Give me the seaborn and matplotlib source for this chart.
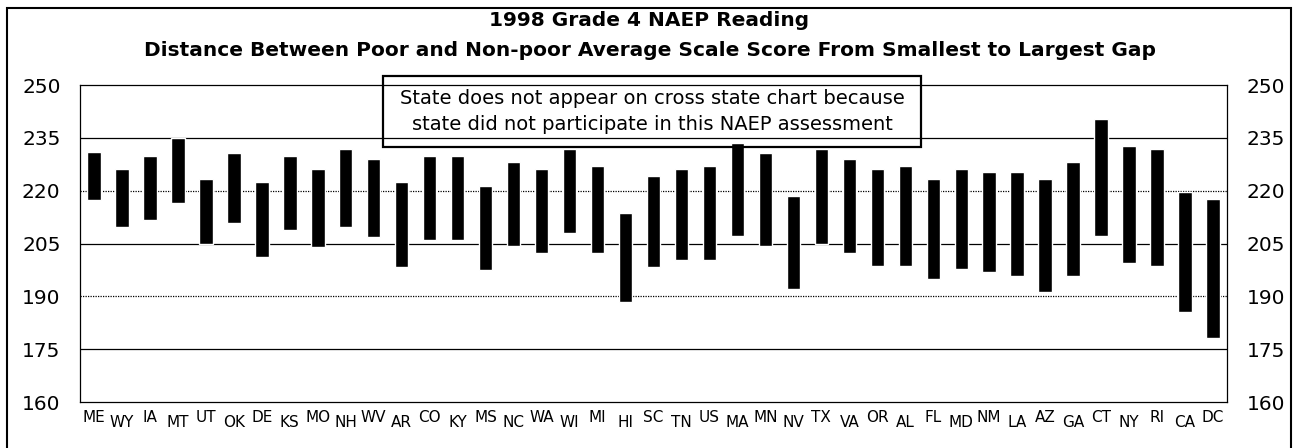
import matplotlib
matplotlib.use("Agg")
import matplotlib.pyplot as plt
import matplotlib.transforms as mtransforms
from matplotlib.patches import Rectangle
import seaborn as sns
import pandas as pd

# states ordered from smallest to largest poor / non-poor gap
states = ["ME", "WY", "IA", "MT", "UT", "OK", "DE", "KS", "MO", "NH", "WV", "AR", "CO", "KY",
          "MS", "NC", "WA", "WI", "MI", "HI", "SC", "TN", "US", "MA", "MN", "NV", "TX", "VA",
          "OR", "AL", "FL", "MD", "NM", "LA", "AZ", "GA", "CT", "NY", "RI", "CA", "DC"]

# poor average scale score (bottom of bar)
poor = [217.4, 209.8, 211.7, 216.4, 204.9, 210.7, 201.3, 208.8, 204.1, 209.8, 206.9, 198.4, 206.0, 206.0,
        197.5, 204.3, 202.2, 207.9, 202.2, 188.5, 198.4, 200.3, 200.3, 207.0, 204.3, 192.0, 204.9, 202.2,
        198.6, 198.6, 194.8, 197.7, 196.8, 195.8, 191.3, 195.9, 207.2, 199.6, 198.6, 185.6, 178.1]

# non-poor average scale score (top of bar)
nonpoor = [230.9, 226.2, 229.8, 234.9, 223.3, 230.8, 222.4, 229.8, 226.2, 231.7, 228.9, 222.4, 229.8, 229.8,
           221.4, 228.0, 226.1, 231.7, 227.0, 213.8, 224.2, 226.1, 227.0, 233.6, 230.8, 218.5, 231.7, 228.9,
           226.1, 227.0, 223.3, 226.1, 225.2, 225.2, 223.3, 228.1, 240.3, 232.7, 231.7, 219.7, 217.6]

yticks = [160, 175, 190, 205, 220, 235, 250]
solid_lines = [175, 205, 235]
dotted_lines = [190, 220]

title1 = "1998 Grade 4 NAEP Reading"
title2 = "Distance Between Poor and Non-poor Average Scale Score From Smallest to Largest Gap"
note = "State does not appear on cross state chart because\nstate did not participate in this NAEP assessment"

df = pd.DataFrame({"state": states, "gap": [h - l for h, l in zip(nonpoor, poor)]})

sns.set_style("white")
plt.rcParams["font.family"] = ["DejaVu Sans"]
plt.rcParams["text.color"] = "black"
plt.rcParams["xtick.color"] = "black"
plt.rcParams["ytick.color"] = "black"

W, H = 1299, 448
fig = plt.figure(figsize=(W / 100, H / 100), dpi=100)
ax = fig.add_axes([80 / W, 1 - 402 / H, (1227 - 80) / W, (402 - 85) / H])

sns.barplot(data=df, x="state", y="gap", order=states, color="black", saturation=1,
            width=0.48, errorbar=None, bottom=poor, ax=ax, zorder=3)

for v in solid_lines:
    ax.axhline(v, color="black", lw=0.9, zorder=1)
for v in dotted_lines:
    ax.axhline(v, color="black", lw=0.9, ls=(0, (1, 1)), zorder=1)

ax.set_ylim(160, 250)
ax.set_xlim(-0.5, len(states) - 0.5)
ax.set_xlabel("")
ax.set_ylabel("")
ax.set_yticks(yticks)
ax.tick_params(axis="y", length=0, labelsize=14.5, pad=14, labelleft=True, labelright=True)
ax.tick_params(axis="x", which="major", length=0, labelsize=11, pad=6)
ax.set_xticks([i + 0.5 for i in range(len(states) - 1)], minor=True)
ax.tick_params(axis="x", which="minor", direction="in", length=4, width=0.8, color="black")

# stagger every other state label
shift = mtransforms.ScaledTranslation(0, -0.05, fig.dpi_scale_trans)
for i, lab in enumerate(ax.get_xticklabels()):
    if i % 2:
        lab.set_transform(lab.get_transform() + shift)

for s in ax.spines.values():
    s.set_color("black")
    s.set_linewidth(0.9)

# titles
fig.text(0.5, 1 - 21 / H, title1, ha="center", va="center", fontsize=14.5, fontweight="bold")
fig.text(0.5, 1 - 51 / H, title2, ha="center", va="center", fontsize=14.5, fontweight="bold")

# note box
fig.patches.append(Rectangle((383 / W, 1 - 147 / H), (921 - 383) / W, (147 - 76) / H,
                             transform=fig.transFigure, fill=False, ec="black", lw=1.6, zorder=5))
fig.text(652 / W, 1 - 111.5 / H, note, ha="center", va="center", fontsize=14,
         linespacing=1.4)

# outer frame
fig.patches.append(Rectangle((7 / W, -0.01), (1291 - 7) / W, 1 - 8 / H + 0.01,
                             transform=fig.transFigure, fill=False, ec="black", lw=1.5))

fig.savefig("out.png", dpi=100)
